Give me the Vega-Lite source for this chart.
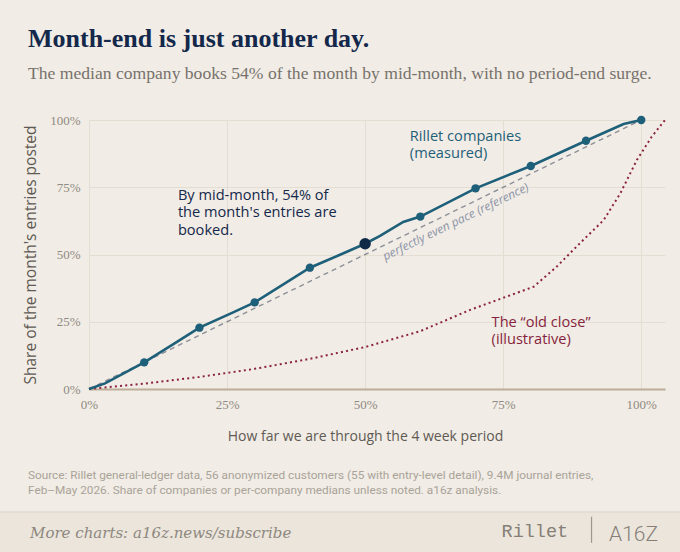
{
  "$schema": "https://vega.github.io/schema/vega-lite/v6.json",
  "autosize": {"type": "none"},
  "padding": {"left": 89, "top": 120, "right": 15, "bottom": 163},
  "width": 576,
  "height": 269,
  "background": "#f1ece5",
  "title": {
    "text": "Month-end is just another day.",
    "subtitle": "The median company books 54% of the month by mid-month, with no period-end surge.",
    "anchor": "start",
    "frame": "group",
    "dx": -61,
    "offset": 31,
    "font": "Liberation Serif",
    "fontSize": 26,
    "fontWeight": "bold",
    "color": "#14284b",
    "subtitleFont": "Liberation Serif",
    "subtitleFontSize": 17.6,
    "subtitleColor": "#77726c",
    "subtitlePadding": 13
  },
  "config": {
    "view": {"stroke": null},
    "axis": {
      "grid": true,
      "gridColor": "#e4ddd2",
      "gridWidth": 1,
      "ticks": false,
      "labelFont": "Liberation Serif",
      "labelFontSize": 13,
      "labelColor": "#8f8a82",
      "labelFlush": false,
      "titleFont": "Open Sans",
      "titleFontWeight": "normal",
      "titleFontSize": 14,
      "titleColor": "#5f5a54"
    }
  },
  "datasets": {
    "rillet": [
      {"through": 0, "share": 0, "kind": "interim"},
      {"through": 0.029, "share": 0.021, "kind": "interim"},
      {"through": 0.1, "share": 0.099, "kind": "checkpoint"},
      {"through": 0.16, "share": 0.176, "kind": "interim"},
      {"through": 0.2, "share": 0.228, "kind": "checkpoint"},
      {"through": 0.26, "share": 0.284, "kind": "interim"},
      {"through": 0.3, "share": 0.322, "kind": "checkpoint"},
      {"through": 0.4, "share": 0.451, "kind": "checkpoint"},
      {"through": 0.467, "share": 0.51, "kind": "interim"},
      {"through": 0.5, "share": 0.54, "kind": "midmonth"},
      {"through": 0.527, "share": 0.569, "kind": "interim"},
      {"through": 0.569, "share": 0.621, "kind": "interim"},
      {"through": 0.6, "share": 0.641, "kind": "checkpoint"},
      {"through": 0.7, "share": 0.746, "kind": "checkpoint"},
      {"through": 0.8, "share": 0.829, "kind": "checkpoint"},
      {"through": 0.9, "share": 0.923, "kind": "checkpoint"},
      {"through": 0.968, "share": 0.985, "kind": "interim"},
      {"through": 1.0, "share": 1.0, "kind": "checkpoint"}
    ],
    "old_close": [
      {"through": 0, "share": 0},
      {"through": 0.1, "share": 0.02},
      {"through": 0.2, "share": 0.045},
      {"through": 0.3, "share": 0.075},
      {"through": 0.4, "share": 0.112},
      {"through": 0.5, "share": 0.156},
      {"through": 0.6, "share": 0.215},
      {"through": 0.69, "share": 0.294},
      {"through": 0.805, "share": 0.38},
      {"through": 0.847, "share": 0.455},
      {"through": 0.889, "share": 0.542},
      {"through": 0.932, "share": 0.628},
      {"through": 0.962, "share": 0.727},
      {"through": 0.992, "share": 0.851},
      {"through": 1.019, "share": 0.938},
      {"through": 1.043, "share": 1.0}
    ],
    "even_pace": [
      {"through": 0, "share": 0},
      {"through": 1, "share": 1}
    ]
  },
  "layer": [
    {
      "data": {"values": [{"band": "footer"}]},
      "mark": {"type": "rect", "fill": "#ebe5dc"},
      "encoding": {
        "x": {"datum": -0.2, "type": "quantitative", "scale": {"domain": [0, 1.043], "nice": false, "zero": false}},
        "x2": {"datum": 1.15},
        "y": {"datum": -0.457, "type": "quantitative", "scale": {"domain": [0, 1], "nice": false}},
        "y2": {"datum": -0.75}
      }
    },
    {
      "data": {"values": [{"band": "footer"}]},
      "mark": {"type": "rule", "color": "#e1dacf", "strokeWidth": 1.5},
      "encoding": {
        "x": {"datum": -0.2, "type": "quantitative"},
        "x2": {"datum": 1.15},
        "y": {"datum": -0.457, "type": "quantitative"}
      }
    },
    {
      "data": {"name": "even_pace"},
      "mark": {"type": "line", "color": "#8d9098", "strokeWidth": 1.4, "strokeDash": [5, 4]},
      "encoding": {
        "x": {
          "field": "through",
          "type": "quantitative",
          "axis": {
            "values": [0, 0.25, 0.5, 0.75, 1],
            "format": "%",
            "domain": true,
            "domainColor": "#bcae98",
            "domainWidth": 2,
            "labelPadding": 9,
            "title": "How far we are through the 4 week period",
            "titlePadding": 18,
            "titleX": 276
          }
        },
        "y": {
          "field": "share",
          "type": "quantitative",
          "axis": {
            "values": [0, 0.25, 0.5, 0.75, 1],
            "format": "%",
            "domain": false,
            "labelPadding": 9,
            "title": "Share of the month's entries posted",
            "titleFontSize": 15.5,
            "titlePadding": 11
          }
        }
      }
    },
    {
      "data": {"name": "old_close"},
      "mark": {"type": "line", "color": "#8b2340", "strokeWidth": 2, "strokeDash": [2, 3.2], "clip": false},
      "encoding": {
        "x": {"field": "through", "type": "quantitative"},
        "y": {"field": "share", "type": "quantitative"}
      }
    },
    {
      "data": {"name": "rillet"},
      "mark": {"type": "line", "color": "#1e5f79", "strokeWidth": 2.6},
      "encoding": {
        "x": {"field": "through", "type": "quantitative"},
        "y": {"field": "share", "type": "quantitative"}
      }
    },
    {
      "data": {"name": "rillet"},
      "transform": [{"filter": "datum.kind === 'checkpoint'"}],
      "mark": {"type": "circle", "color": "#1e5f79", "opacity": 1, "size": 70},
      "encoding": {
        "x": {"field": "through", "type": "quantitative"},
        "y": {"field": "share", "type": "quantitative"}
      }
    },
    {
      "data": {"name": "rillet"},
      "transform": [{"filter": "datum.kind === 'midmonth'"}],
      "mark": {"type": "circle", "color": "#0e2a47", "opacity": 1, "size": 130},
      "encoding": {
        "x": {"field": "through", "type": "quantitative"},
        "y": {"field": "share", "type": "quantitative"}
      }
    },
    {
      "data": {"values": [{"label": "By mid-month, 54% of\nthe month's entries are\nbooked."}]},
      "mark": {"type": "text", "align": "left", "baseline": "alphabetic", "lineBreak": "\n", "lineHeight": 17.5, "font": "Open Sans", "fontWeight": 500, "fontSize": 14.6, "color": "#14284b"},
      "encoding": {
        "x": {"datum": 0.161, "type": "quantitative"},
        "y": {"datum": 0.703, "type": "quantitative"},
        "text": {"field": "label"}
      }
    },
    {
      "data": {"values": [{"label": "Rillet companies\n(measured)"}]},
      "mark": {"type": "text", "align": "left", "baseline": "alphabetic", "lineBreak": "\n", "lineHeight": 17.5, "font": "Open Sans", "fontWeight": 500, "fontSize": 14.6, "color": "#1e5f79"},
      "encoding": {
        "x": {"datum": 0.581, "type": "quantitative"},
        "y": {"datum": 0.923, "type": "quantitative"},
        "text": {"field": "label"}
      }
    },
    {
      "data": {"values": [{"label": "The “old close”\n(illustrative)"}]},
      "mark": {"type": "text", "align": "left", "baseline": "alphabetic", "lineBreak": "\n", "lineHeight": 17.5, "font": "Open Sans", "fontWeight": 500, "fontSize": 14.6, "color": "#861f3d"},
      "encoding": {
        "x": {"datum": 0.729, "type": "quantitative"},
        "y": {"datum": 0.232, "type": "quantitative"},
        "text": {"field": "label"}
      }
    },
    {
      "data": {"values": [{"label": "perfectly even pace (reference)"}]},
      "mark": {"type": "text", "align": "center", "baseline": "middle", "angle": -26, "font": "Open Sans", "fontStyle": "italic", "fontSize": 12, "color": "#8c94a8"},
      "encoding": {
        "x": {"datum": 0.664, "type": "quantitative"},
        "y": {"datum": 0.622, "type": "quantitative"},
        "text": {"field": "label"}
      }
    },
    {
      "data": {"values": [{"label": "Source: Rillet general-ledger data, 56 anonymized customers (55 with entry-level detail), 9.4M journal entries,\nFeb–May 2026. Share of companies or per-company medians unless noted. a16z analysis."}]},
      "mark": {"type": "text", "align": "left", "baseline": "alphabetic", "lineBreak": "\n", "lineHeight": 14.5, "font": "Roboto", "fontSize": 11.8, "color": "#a9a399"},
      "encoding": {
        "x": {"datum": -0.1105, "type": "quantitative"},
        "y": {"datum": -0.336, "type": "quantitative"},
        "text": {"field": "label"}
      }
    },
    {
      "data": {"values": [{"label": "More charts: a16z.news/subscribe"}]},
      "mark": {"type": "text", "align": "left", "baseline": "alphabetic", "font": "DejaVu Serif", "fontStyle": "italic", "fontSize": 15, "color": "#8e887f"},
      "encoding": {
        "x": {"datum": -0.1068, "type": "quantitative"},
        "y": {"datum": -0.553, "type": "quantitative"},
        "text": {"field": "label"}
      }
    },
    {
      "data": {"values": [{"label": "Rillet"}]},
      "mark": {"type": "text", "align": "left", "baseline": "alphabetic", "font": "Liberation Mono", "fontSize": 18.5, "color": "#857f77"},
      "encoding": {
        "x": {"datum": 0.747, "type": "quantitative"},
        "y": {"datum": -0.551, "type": "quantitative"},
        "text": {"field": "label"}
      }
    },
    {
      "data": {"values": [{"mark": "divider"}]},
      "mark": {"type": "rule", "color": "#9d978e", "strokeWidth": 1.2},
      "encoding": {
        "x": {"datum": 0.91, "type": "quantitative"},
        "y": {"datum": -0.475, "type": "quantitative"},
        "y2": {"datum": -0.572}
      }
    },
    {
      "data": {"values": [{"label": "A16Z"}]},
      "mark": {"type": "text", "align": "left", "baseline": "alphabetic", "font": "Roboto", "fontWeight": 300, "fontSize": 21, "color": "#857f77"},
      "encoding": {
        "x": {"datum": 0.9416, "type": "quantitative"},
        "y": {"datum": -0.564, "type": "quantitative"},
        "text": {"field": "label"}
      }
    }
  ]
}
